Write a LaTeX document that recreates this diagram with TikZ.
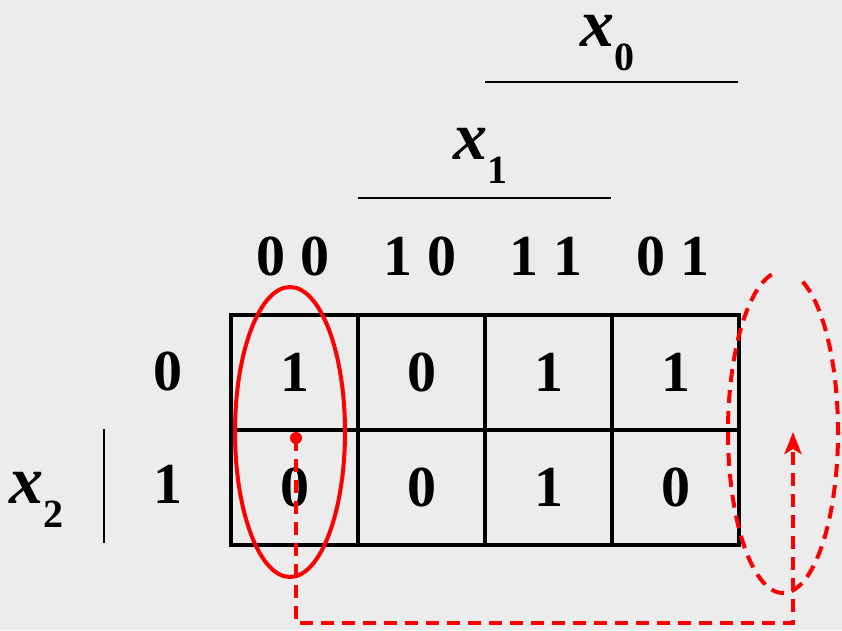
\documentclass[tikz,border=0pt]{standalone}
\usepackage{fontspec}
\setmainfont{Liberation Serif}
\usetikzlibrary{arrows.meta}
\definecolor{bgc}{RGB}{236,236,236}
\definecolor{kred}{RGB}{255,0,0}
\begin{document}
\begin{tikzpicture}[x=1pt,y=-1pt,
  cellbox/.style={draw=black,line width=4pt,minimum width=127pt,minimum height=115pt,inner sep=0pt,font=\fontsize{58}{58}\selectfont\bfseries},
  digits/.style={inner sep=0pt,anchor=base,font=\fontsize{58}{58}\selectfont\bfseries},
  varlab/.style={inner sep=0pt,anchor=base west,font=\fontsize{68}{68}\selectfont\bfseries\itshape},
  redline/.style={draw=kred,line width=4pt},
  reddash/.style={draw=kred,line width=4pt,dash pattern=on 13pt off 8pt}]
\fill[bgc] (0,0) rectangle (842,630);
\useasboundingbox (0,0) rectangle (842,630);
% grid
\node[cellbox] (c00) at (294.5,372) {1};
\node[cellbox] (c01) at (421.5,372) {0};
\node[cellbox] (c02) at (548.5,372) {1};
\node[cellbox] (c03) at (675.5,372) {1};
\node[cellbox] (c10) at (294.5,487) {0};
\node[cellbox] (c11) at (421.5,487) {0};
\node[cellbox] (c12) at (548.5,487) {1};
\node[cellbox] (c13) at (675.5,487) {0};
% headers
\node[digits] (h0) at (293,275) {0 0};
\node[digits] (h1) at (420,275) {1 0};
\node[digits] (h2) at (546,275) {1 1};
\node[digits] (h3) at (673,275) {0 1};
\node[digits] (r0) at (168,390) {0};
\node[digits] (r1) at (168,503) {1};
% variable labels
\node[varlab] (x0) at (580,46) {x\raisebox{-24pt}{\fontsize{40}{40}\selectfont\upshape 0}};
\draw[line width=2.5pt] (485,82) -- (738,82);
\node[varlab] (x1) at (453,159) {x\raisebox{-24pt}{\fontsize{40}{40}\selectfont\upshape 1}};
\draw[line width=2.5pt] (358,198) -- (611,198);
\node[varlab] (x2) at (9,503) {x\raisebox{-24pt}{\fontsize{40}{40}\selectfont\upshape 2}};
\draw[line width=2.5pt] (104,429) -- (104,543);
% red marks
\draw[redline] (290,432) ellipse [x radius=55, y radius=145];
\node[circle,fill=kred,inner sep=0pt,minimum size=12pt] (dot) at (296,438) {};
\coordinate (b1) at (296,623);
\coordinate (b2) at (793,623);
\coordinate (tip) at (793,432);
\draw[reddash,-{Stealth[length=22pt,width=17pt,inset=5pt]}] (dot.center) -- (b1) -- (b2) -- (tip);
\draw[reddash] (783,432) ++(-69:55 and 161) arc[start angle=-69,end angle=264,x radius=55,y radius=161];
\end{tikzpicture}
\end{document}
